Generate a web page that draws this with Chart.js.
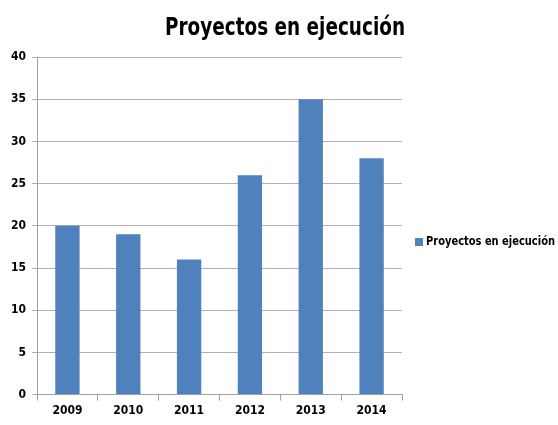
<!DOCTYPE html>
<html>
<head>
<meta charset="utf-8">
<script src="https://cdn.jsdelivr.net/npm/chart.js@4"></script>
<style>
  html, body { margin: 0; padding: 0; background: #fff; }
  #wrap { width: 558px; height: 425px; }
</style>
</head>
<body>
<div id="wrap"><canvas id="chart" width="558" height="425"></canvas></div>
<script>
const years = ['2009', '2010', '2011', '2012', '2013', '2014'];
const proyectos = [20, 19, 16, 26, 35, 28];
const seriesName = 'Proyectos en ejecución';

const FONT = "'DejaVu Sans Condensed', 'DejaVu Sans', sans-serif";
const BAR_COLOR = '#4f81bd';

// title + legend drawn by hand, Excel style (title over whole canvas, legend on the right)
const excelDecor = {
  id: 'excelDecor',
  afterDraw(c) {
    const g = c.ctx;
    const area = c.chartArea;
    g.save();
    g.fillStyle = '#000';
    g.textAlign = 'center';
    g.textBaseline = 'alphabetic';
    g.font = "bold 25px " + FONT;
    g.fillText(seriesName, 285, 35, 240);

    const x = area.right + 13;
    const y = 242;
    g.fillStyle = BAR_COLOR;
    g.fillRect(x, y - 4, 8, 8);
    g.fillStyle = '#000';
    g.textAlign = 'left';
    g.textBaseline = 'middle';
    g.font = "bold 13px " + FONT;
    g.fillText(c.data.datasets[0].label, x + 11, y, 129);
    g.restore();
  },
};

const ctx = document.getElementById('chart');
const chart = new Chart(ctx, {
  type: 'bar',
  data: {
    labels: years,
    datasets: [{
      label: seriesName,
      data: proyectos,
      backgroundColor: BAR_COLOR,
      borderWidth: 0,
      barPercentage: 0.4,
      categoryPercentage: 1.0,
    }],
  },
  options: {
    responsive: false,
    animation: false,
    layout: {
      padding: { top: 57, bottom: 4, left: 5, right: 156 },
    },
    scales: {
      x: {
        grid: {
          display: true,
          drawOnChartArea: false,
          offset: true,
          tickLength: 6,
          color: '#a0a0a0',
        },
        border: { color: '#a0a0a0' },
        ticks: {
          color: '#000',
          font: { family: FONT, size: 12, weight: 'bold' },
          padding: 3,
        },
      },
      y: {
        min: 0,
        max: 40,
        ticks: {
          stepSize: 5,
          color: '#000',
          font: { family: FONT, size: 12, weight: 'bold' },
          padding: 6,
        },
        grid: {
          color: '#b0b0b0',
          tickLength: 5,
        },
        border: { color: '#a0a0a0' },
      },
    },
    plugins: {
      title: { display: false },
      legend: { display: false },
      tooltip: { enabled: false },
    },
  },
  plugins: [excelDecor],
});
</script>
</body>
</html>
